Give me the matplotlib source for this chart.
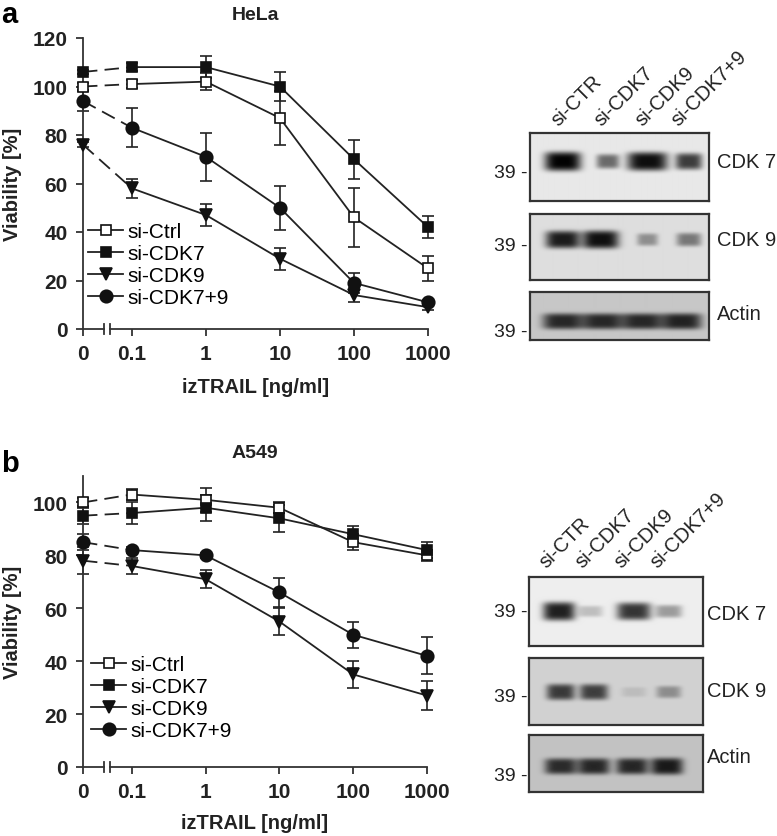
import numpy as np
import matplotlib
matplotlib.use("Agg")
import matplotlib.pyplot as plt

plt.rcParams["font.family"] = ["Liberation Sans", "DejaVu Sans"]

W, H = 777, 837

# ---- viability data ----
doses = [0, 0.1, 1, 10, 100, 1000]
dose_labels = ["0", "0.1", "1", "10", "100", "1000"]
series = ["si-Ctrl", "si-CDK7", "si-CDK9", "si-CDK7+9"]

hela_mean = {
    "si-Ctrl": [100, 101, 102, 87, 46, 25],
    "si-CDK7": [106, 108, 108, 100, 70, 42],
    "si-CDK9": [76, 58, 47, 29, 14, 9],
    "si-CDK7+9": [94, 83, 71, 50, 19, 11],
}
hela_err = {
    "si-Ctrl": [1.5, 1.5, 3.5, 11, 12, 5],
    "si-CDK7": [1, 1.5, 4.5, 6, 8, 4.5],
    "si-CDK9": [1, 4, 4.5, 4.5, 3, 1],
    "si-CDK7+9": [4, 8, 10, 9, 4, 1],
}
a549_mean = {
    "si-Ctrl": [100, 103, 101, 98, 85, 80],
    "si-CDK7": [95, 96, 98, 94, 88, 82],
    "si-CDK9": [78, 76, 71, 55, 35, 27],
    "si-CDK7+9": [85, 82, 80, 66, 50, 42],
}
a549_err = {
    "si-Ctrl": [1.5, 2, 4.5, 2, 3, 2],
    "si-CDK7": [3, 4, 5, 5, 3, 3],
    "si-CDK9": [5, 3, 3.5, 5, 5, 5.5],
    "si-CDK7+9": [3, 1, 1, 5.5, 5, 7],
}

# ---- blot band intensities (lanes: si-CTR, si-CDK7, si-CDK9, si-CDK7+9) ----
lanes = ["si-CTR", "si-CDK7", "si-CDK9", "si-CDK7+9"]
blot_rows = ["CDK 7", "CDK 9", "Actin"]
hela_bands = [[1.0, 0.55, 0.95, 0.75], [0.85, 0.9, 0.35, 0.45], [0.7, 0.7, 0.7, 0.72]]
a549_bands = [[0.95, 0.22, 0.85, 0.38], [0.7, 0.68, 0.1, 0.32], [0.7, 0.72, 0.72, 0.78]]

styles = {
    "si-Ctrl": dict(marker="s", mfc="white", ms=7.8),
    "si-CDK7": dict(marker="s", mfc="#111111", ms=7.8),
    "si-CDK9": dict(marker="v", mfc="#111111", ms=9),
    "si-CDK7+9": dict(marker="o", mfc="#111111", ms=9),
}

ZERO_POS = -1.66
xpos = [ZERO_POS] + [np.log10(d) for d in doses[1:]]


def px_axes(x0, y0, x1, y1):
    return fig.add_axes([x0 / W, 1 - y1 / H, (x1 - x0) / W, (y1 - y0) / H])


def viability(ax, means, errs, ymax, yticks, title, leg_xy, xlab_y):
    ax.set_xlim(ZERO_POS, 3)
    ax.set_ylim(0, ymax)
    handles = []
    for s in series:
        m, e = means[s], errs[s]
        st = styles[s]
        ax.errorbar(xpos, m, yerr=e, fmt="none", ecolor="#222222", elinewidth=1.2,
                    capsize=4, capthick=1.2, zorder=2, clip_on=False)
        ax.plot(xpos[:2], m[:2], color="#222222", lw=1.3, ls=(0, (8, 4)), zorder=3, clip_on=False)
        h, = ax.plot(xpos[1:], m[1:], color="#222222", lw=1.3, zorder=3, clip_on=False,
                     marker=st["marker"], ms=st["ms"], mfc=st["mfc"], mec="#111111", mew=1.2)
        ax.plot(xpos[0], m[0], ls="none", marker=st["marker"], ms=st["ms"], mfc=st["mfc"],
                mec="#111111", mew=1.2, zorder=4, clip_on=False)
        handles.append(h)
    for sp in ["top", "right", "bottom"]:
        ax.spines[sp].set_visible(False)
    ax.spines["left"].set_color("#333333")
    ax.spines["left"].set_linewidth(1.3)
    # broken x axis
    brk1, brk2 = -1.37, -1.30
    ax.plot([ZERO_POS, brk1], [0, 0], color="#333333", lw=1.3, clip_on=False)
    ax.plot([brk2, 3], [0, 0], color="#333333", lw=1.3, clip_on=False)
    for b in (brk1, brk2):
        ax.plot([b, b], [-ymax * 0.018, ymax * 0.018], color="#333333", lw=1.3, clip_on=False)
    ax.set_xticks(xpos)
    ax.set_xticklabels(dose_labels)
    ax.set_yticks(yticks)
    ax.tick_params(direction="out", length=5, width=1.3, color="#333333",
                   labelsize=15, pad=6)
    for lab in ax.get_xticklabels() + ax.get_yticklabels():
        lab.set_fontweight("bold")
        lab.set_color("#222222")
    ax.set_xlabel("izTRAIL [ng/ml]", fontsize=14.5, fontweight="bold", color="#222222")
    ax.xaxis.set_label_coords(0.5, xlab_y)
    ax.set_ylabel("Viability [%]", fontsize=14.5, fontweight="bold", color="#222222")
    ax.yaxis.set_label_coords(-0.178, 0.5)
    ax.set_title(title, fontsize=14, fontweight="bold", pad=14, color="#222222")
    ax.legend(handles, series, loc="upper left", frameon=False, fontsize=15,
              bbox_to_anchor=(leg_xy[0] / W, 1 - leg_xy[1] / H), bbox_transform=fig.transFigure,
              borderpad=0, borderaxespad=0, handlelength=1.7, handletextpad=0.2,
              labelspacing=0.15, numpoints=1)
    return ax


def blot(rect, intens, bg, band_y, lane_x, widths, dark):
    x0, y0, x1, y1 = rect
    ax = px_axes(x0, y0, x1, y1)
    nx, ny = int(x1 - x0), int(y1 - y0)
    xx, yy = np.meshgrid(np.arange(nx), np.arange(ny))
    img = np.full((ny, nx), bg)
    for lx, w, v in zip(lane_x, widths, intens):
        cx = lx * nx
        prof = np.exp(-((xx - cx) / (w / 2.1)) ** 4) * np.exp(-((yy - band_y * ny) / (4.5 + 5.0 * v)) ** 4)
        img = img - v * dark * prof
    ax.imshow(np.clip(img, 0, 1), cmap="gray", vmin=0, vmax=1, aspect="auto",
              interpolation="bilinear")
    ax.set_xticks([])
    ax.set_yticks([])
    for sp in ax.spines.values():
        sp.set_color("#333333")
        sp.set_linewidth(1.6)
    return ax


fig = plt.figure(figsize=(W / 100, H / 100), dpi=100)

ax_a = px_axes(83, 39, 428, 330)
viability(ax_a, hela_mean, hela_err, 120, range(0, 121, 20), "HeLa", (88, 223), -0.165)
ax_b = px_axes(83, 477, 427, 768)
viability(ax_b, a549_mean, a549_err, 110, range(0, 101, 20), "A549", (91, 656), -0.158)

fig.text(1 / W, 1 - 1 / H, "a", fontsize=21, fontweight="bold", va="top", ha="left")
fig.text(1 / W, 1 - 450 / H, "b", fontsize=21, fontweight="bold", va="top", ha="left")

# ---- blots, HeLa ----
hela_rects = [(530, 134, 709, 202), (530, 215, 709, 281), (530, 293, 709, 341)]
hela_bg = [0.91, 0.87, 0.78]
hela_by = [0.41, 0.38, 0.6]
hela_lx = [[0.18, 0.43, 0.65, 0.88], [0.18, 0.39, 0.65, 0.88], [0.18, 0.40, 0.62, 0.84]]
hela_w = [[38, 24, 42, 28], [36, 38, 22, 26], [42, 42, 42, 42]]
hela_39 = [173, 247, 333]
hela_lab = [163, 240, 315]
for i in range(3):
    blot(hela_rects[i], hela_bands[i], hela_bg[i], hela_by[i], hela_lx[i], hela_w[i], 0.9)
    fig.text(527 / W, 1 - hela_39[i] / H, "39 -", fontsize=14, ha="right", va="center", color="#222222")
    fig.text(717 / W, 1 - hela_lab[i] / H, blot_rows[i], fontsize=14.5, ha="left", va="center", color="#222222")
for lx, sx in zip(lanes, [558, 601, 642, 678]):
    fig.text(sx / W, 1 - 127 / H, lx, fontsize=14.5, rotation=45, rotation_mode="anchor",
             ha="left", va="baseline", color="#222222")

# ---- blots, A549 ----
a549_rects = [(529, 578, 703, 647), (529, 659, 703, 726), (529, 736, 703, 793)]
a549_bg = [0.93, 0.82, 0.76]
a549_by = [0.49, 0.5, 0.54]
a549_lx = [[0.17, 0.35, 0.60, 0.80], [0.18, 0.37, 0.60, 0.80], [0.18, 0.37, 0.59, 0.79]]
a549_w = [[34, 26, 36, 28], [30, 30, 26, 26], [34, 34, 34, 34]]
a549_39 = [613, 698, 777]
a549_lab = [615, 692, 758]
for i in range(3):
    blot(a549_rects[i], a549_bands[i], a549_bg[i], a549_by[i], a549_lx[i], a549_w[i], 0.85)
    fig.text(527 / W, 1 - a549_39[i] / H, "39 -", fontsize=14, ha="right", va="center", color="#222222")
    fig.text(707 / W, 1 - a549_lab[i] / H, blot_rows[i], fontsize=14.5, ha="left", va="center", color="#222222")
for lx, sx in zip(lanes, [546, 582, 621, 657]):
    fig.text(sx / W, 1 - 569 / H, lx, fontsize=14.5, rotation=45, rotation_mode="anchor",
             ha="left", va="baseline", color="#222222")

fig.savefig("out.png", dpi=100)
